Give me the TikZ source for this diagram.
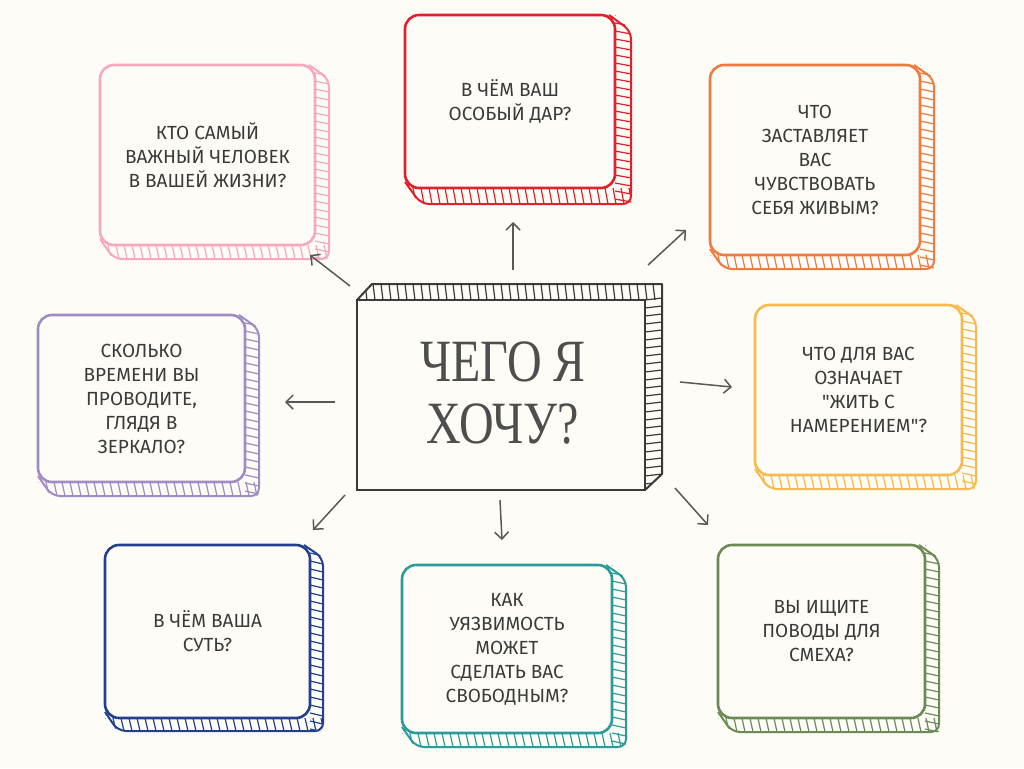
\documentclass[tikz,border=0pt]{standalone}
\usepackage{fontspec}
\setmainfont{Fira Sans}
\newfontfamily\bigserif{Liberation Serif}
\usetikzlibrary{arrows.meta}
\definecolor{bg}{HTML}{FDFCF6}
\definecolor{ink}{HTML}{3A3A3A}
\definecolor{cpink}{HTML}{F5A8C0}
\definecolor{cred}{HTML}{E0202A}
\definecolor{corange}{HTML}{F07A40}
\definecolor{cpurple}{HTML}{A08CC4}
\definecolor{cyellow}{HTML}{F9BA4C}
\definecolor{cblue}{HTML}{22408E}
\definecolor{cteal}{HTML}{2A9A9A}
\definecolor{cgreen}{HTML}{6B8A55}
\tikzset{
  qtext/.style={text=ink,align=center,font=\fontsize{19}{24}\selectfont,inner sep=0pt},
  arr/.style={draw=ink!85,line width=1.5pt,-{Straight Barb[length=7pt,width=14pt,line width=1.5pt]}},
}
% name, x1,y1,x2,y2, depth, colour, text
\newcommand\qbox[8]{%
  \begin{scope}
    \clip (#4,#3) -- (#4+#6,#3+#6) -- (#4+#6,#5+#6) -- (#2+#6,#5+#6) -- (#2,#5) -- cycle;
    \foreach \t in {0,8,...,240} {\draw[#7,line width=1.2pt] (#4,#3+\t) -- (#4+#6,#3+\t+3);}
    \foreach \t in {0,8,...,240} {\draw[#7,line width=1.2pt] (#2+\t,#5) -- (#2+\t+3,#5+#6);}
  \end{scope}
  \draw[#7,line width=2pt,line join=round,rounded corners=8pt] (#4-6,#3) -- (#4+#6,#3+#6) -- (#4+#6,#5+#6) -- (#2+#6,#5+#6) -- (#2,#5-6);
  \draw[#7,line width=2.6pt,rounded corners=14pt,fill=bg] (#2,#3) rectangle (#4,#5);
  \node[qtext] (#1) at ({(#2+#4)/2},{(#3+#5)/2}) {#8};
}
\begin{document}
\begin{tikzpicture}[x=1pt,y=-1pt]
\fill[bg] (0,0) rectangle (1024,768);
\useasboundingbox (0,0) rectangle (1024,768);

\qbox{pink}{100}{65}{315}{245}{14}{cpink}{КТО САМЫЙ\\ВАЖНЫЙ ЧЕЛОВЕК\\В ВАШЕЙ ЖИЗНИ?}
\qbox{red}{405}{15}{615}{188}{16}{cred}{В ЧЁМ ВАШ\\ОСОБЫЙ ДАР?}
\qbox{orange}{710}{65}{920}{255}{14}{corange}{ЧТО\\ЗАСТАВЛЯЕТ\\ВАС\\ЧУВСТВОВАТЬ\\СЕБЯ ЖИВЫМ?}
\qbox{purple}{38}{315}{245}{482}{14}{cpurple}{СКОЛЬКО\\ВРЕМЕНИ ВЫ\\ПРОВОДИТЕ,\\ГЛЯДЯ В\\ЗЕРКАЛО?}
\qbox{yellow}{755}{305}{962}{475}{14}{cyellow}{ЧТО ДЛЯ ВАС\\ОЗНАЧАЕТ\\\textquotedbl ЖИТЬ С\\НАМЕРЕНИЕМ\textquotedbl ?}
\qbox{blue}{105}{545}{310}{718}{13}{cblue}{В ЧЁМ ВАША\\СУТЬ?}
\qbox{teal}{402}{565}{612}{733}{14}{cteal}{КАК\\УЯЗВИМОСТЬ\\МОЖЕТ\\СДЕЛАТЬ ВАС\\СВОБОДНЫМ?}
\qbox{green}{718}{545}{925}{718}{14}{cgreen}{ВЫ ИЩИТЕ\\ПОВОДЫ ДЛЯ\\СМЕХА?}

% centre block
\begin{scope}
  \clip (357,300) -- (372,284) -- (662,284) -- (662,474) -- (645,490) -- (645,300) -- cycle;
  \foreach \t in {0,8,...,300} {\draw[ink,line width=1.2pt] (357+\t,284) -- (359+\t,300);}
  \foreach \t in {0,8,...,200} {\draw[ink,line width=1.2pt] (645,300+\t) -- (662,298+\t);}
\end{scope}
\draw[ink,line width=2pt,line join=round] (357,300) -- (372,284) -- (662,284) -- (662,474) -- (645,490);
\draw[ink,line width=2.6pt,fill=bg] (357,300) rectangle (645,490);
\node[text=ink!90,align=center,font=\bigserif\fontsize{60}{62}\selectfont,xscale=0.8,inner sep=0pt] (main) at (503,393) {ЧЕГО Я\\ХОЧУ?};

% arrows
\coordinate (a1) at (513,270); \coordinate (b1) at (513,222);
\coordinate (a2) at (350,286); \coordinate (b2) at (310,255);
\coordinate (a3) at (648,265); \coordinate (b3) at (686,230);
\coordinate (a4) at (335,402); \coordinate (b4) at (285,402);
\coordinate (a5) at (680,382); \coordinate (b5) at (732,387);
\coordinate (a6) at (345,495); \coordinate (b6) at (313,530);
\coordinate (a7) at (500,500); \coordinate (b7) at (502,540);
\coordinate (a8) at (675,488); \coordinate (b8) at (708,525);
\foreach \i in {1,...,8} {\draw[arr] (a\i) -- (b\i);}
\end{tikzpicture}
\end{document}
